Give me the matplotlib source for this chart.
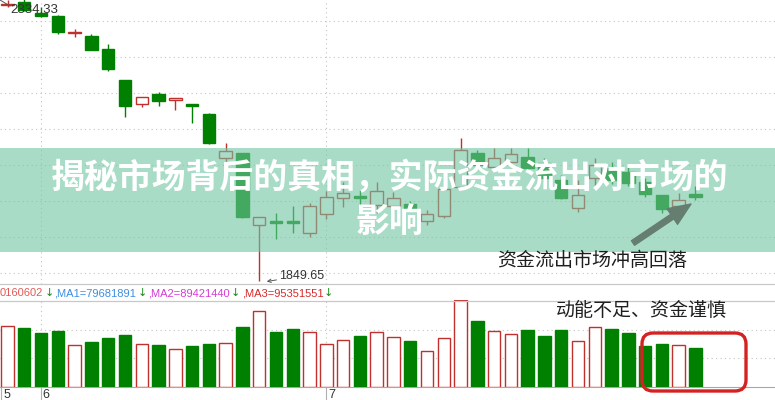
import matplotlib
matplotlib.use("Agg")
import matplotlib.pyplot as plt
import numpy as np
from matplotlib.patches import Rectangle, FancyBboxPatch

plt.rcParams['font.family'] = ['Noto Sans CJK SC', 'DejaVu Sans']

# daily candles (index points)
opens = [2292.8, 2296.8, 2278.7, 2274.9, 2247.7, 2242.9, 2221.6, 2172.0, 2133.1, 2149.6,
         2140.5, 2133.6, 2117.6, 2046.7, 2055.7, 1940.0, 1946.4, 1946.9, 1927.7, 1957.1,
         1982.7, 1986.4, 1972.5, 1970.4, 1973.6, 1946.4, 1954.4, 2000.8, 2054.7, 2033.3,
         2041.3, 2048.3, 2039.2, 2012.0, 1966.7, 2015.2, 2031.2, 2025.3, 2008.8, 1988.0,
         1970.9, 1989.6]
closes = [2293.6, 2284.0, 2274.9, 2249.3, 2248.8, 2220.0, 2189.6, 2130.9, 2144.3, 2138.9,
          2142.7, 2130.4, 2070.7, 2058.9, 1953.3, 1952.3, 1943.7, 1943.7, 1970.4, 1985.6,
          1990.7, 1983.2, 1994.9, 1983.2, 1966.1, 1957.1, 1997.1, 2060.0, 2036.0, 2046.7,
          2053.1, 2030.7, 2015.2, 1982.7, 1988.0, 2036.0, 2012.0, 2007.7, 1989.6, 1965.1,
          1980.0, 1985.3]
highs = [2300.0, 2301.6, 2288.8, 2276.0, 2253.6, 2245.1, 2229.1, 2172.0, 2144.8, 2152.3,
         2142.7, 2133.6, 2119.2, 2071.7, 2056.0, 1953.3, 1959.2, 1970.4, 1975.7, 1995.2,
         2009.3, 1996.0, 2009.3, 1992.8, 1978.4, 1964.0, 2004.0, 2078.7, 2060.0, 2063.2,
         2063.2, 2062.7, 2047.2, 2020.0, 2012.0, 2047.2, 2040.8, 2034.4, 2015.2, 1988.0,
         1990.7, 2002.4]
lows = [2288.8, 2283.2, 2272.8, 2245.6, 2240.8, 2220.0, 2186.9, 2112.8, 2128.3, 2130.9,
        2124.0, 2102.7, 2070.4, 2037.6, 1952.0, 1849.65, 1917.1, 1927.7, 1920.3, 1949.1,
        1969.3, 1969.3, 1958.7, 1964.0, 1962.4, 1940.0, 1951.2, 1996.0, 2034.4, 2025.3,
        2039.2, 2028.0, 2008.8, 1981.6, 1960.8, 2004.0, 2005.6, 2002.4, 1984.8, 1959.7,
        1967.2, 1980.0]
# volume, millions of shares
volumes = [115.9, 112.7, 102.6, 107.0, 79.8, 86.1, 93.7, 99.4, 81.7, 79.8,
           72.2, 77.9, 82.3, 83.6, 114.6, 144.4, 105.1, 110.8, 104.5, 82.3,
           89.3, 97.5, 104.5, 94.4, 87.4, 68.4, 92.5, 165.3, 126.0, 106.4,
           100.7, 108.3, 97.5, 108.3, 87.4, 114.0, 110.2, 103.2, 78.5, 82.3,
           79.8, 74.1]

ma_labels = ["0160602", ",MA1=79681891", ",MA2=89421440", ",MA3=95351551"]
month_ticks = [-0.36, 1.97, 19.0]
month_labels = ["5", "6", "7"]
high_label = "2334.33"
low_label = "1849.65"
title_lines = ["揭秘市场背后的真相，实际资金流出对市场的", "影响"]
note_top = "资金流出市场冲高回落"
note_bottom = "动能不足、资金谨慎"

W, H = 775, 400
RED = '#c0302c'
GREEN = '#008000'
GRID = '#c4c4c4'

fig = plt.figure(figsize=(W / 100, H / 100), dpi=100)

x = np.arange(len(opens))
o, c = np.array(opens), np.array(closes)
up = c >= o
edge = np.where(up, RED, GREEN)
face = np.where(up, 'white', GREEN)
xlim = (-7.5 / 16.78, (W - 7.5) / 16.78)


def px_axes(top, bottom):
    a = fig.add_axes([0, (H - bottom) / H, 1, (bottom - top) / H])
    a.set_xlim(*xlim)
    for s in a.spines.values():
        s.set_visible(False)
    a.tick_params(length=0, labelleft=False, labelbottom=False)
    return a


# price panel
ax = px_axes(0, 284)
ax.set_ylim(1845.6, 2300)
ax.set_yticks(np.arange(1863.2, 2300, 57.6))
ax.set_xticks([])
ax.grid(axis='y', ls=(0, (1, 3)), color=GRID, lw=0.8)
for t in month_ticks[1:]:
    ax.axvline(t, ls=(0, (1, 3)), color=GRID, lw=0.8)
ax.vlines(x, lows, highs, colors=edge, lw=1, zorder=2)
ax.bar(x, np.where(np.abs(c - o) < 0.6, 0.6, c - o), bottom=o, width=0.74,
       color=face, edgecolor=edge, lw=1, zorder=3)
ax.annotate(low_label, xy=(15.45, lows[15]), xytext=(9, 4), textcoords='offset points',
            fontsize=9, family='Liberation Sans', color='#333333', va='center',
            arrowprops=dict(arrowstyle='->', color='#555555', lw=0.7,
                            mutation_scale=6, shrinkA=0, shrinkB=0))

# volume panel
axv = px_axes(300, 387)
axv.set_ylim(0, 165.3)
axv.set_yticks([55, 108])
axv.grid(axis='y', ls=(0, (1, 3)), color=GRID, lw=0.8)
for t in month_ticks[1:]:
    axv.axvline(t, ls=(0, (1, 3)), color=GRID, lw=0.8)
axv.bar(x, volumes, width=0.74, color=face, edgecolor=edge, lw=1, zorder=3)
axv.spines['bottom'].set_visible(True)
axv.spines['bottom'].set_color('#a8a8a8')
axv.set_xticks(month_ticks)
axv.tick_params(axis='x', length=10, color='#b0b0b0', direction='out')
for t, lab in zip(month_ticks, month_labels):
    axv.annotate(lab, xy=(t, 0), xycoords=('data', 'axes fraction'), xytext=(1.5, -6),
                 textcoords='offset points', fontsize=9, family='Liberation Sans',
                 color='#333333', ha='left', va='center')

# overlay in pixel coordinates
ov = fig.add_axes([0, 0, 1, 1], zorder=5)
ov.set_xlim(0, W)
ov.set_ylim(H, 0)
ov.axis('off')
ov.patch.set_alpha(0)

ov.plot([0, W], [284, 284], color='#c8c8c8', lw=0.9)
ov.plot([0, W], [300.5, 300.5], color='#c8c8c8', lw=0.9)

ov.plot([0, 10], [0, 6], color='#555555', lw=0.7)
ov.text(10, 10, high_label, fontsize=9.5, family='Liberation Sans', color='#333333',
        ha='left', va='center')

ma_x = [0, 54, 148, 242]
ma_colors = ['#e25a55', '#3c8fe0', '#d43cd4', '#d42a2a']
arrow_x = [45, 138, 231, 324]
for xs, lab, col, ax_ in zip(ma_x, ma_labels, ma_colors, arrow_x):
    ov.text(xs, 293, lab, fontsize=8, family='Liberation Sans', color=col,
            ha='left', va='center')
    ov.text(ax_, 293, '↓', fontsize=8, family='DejaVu Sans', color='#1a8a1a',
            ha='left', va='center')

ov.add_patch(Rectangle((0, 148), W, 104, facecolor=(113 / 255, 197 / 255, 163 / 255),
                       alpha=0.6, lw=0))
ov.text(389, 178, title_lines[0], fontsize=24.4, weight='bold', color='white',
        ha='center', va='center')
ov.text(389, 221, title_lines[1], fontsize=24.4, weight='bold', color='white',
        ha='center', va='center')

ov.annotate('', xy=(691, 204), xytext=(633, 243),
            arrowprops=dict(arrowstyle='simple,head_length=0.9,head_width=0.75,tail_width=0.22',
                            color='#667e70', mutation_scale=18, shrinkA=0, shrinkB=0))
ov.text(592, 261, note_top, fontsize=13.7, color='#1e1e1e', ha='center', va='center')
ov.text(641.5, 311, note_bottom, fontsize=13.7, color='#1e1e1e', ha='center', va='center')

ov.add_patch(FancyBboxPatch((642, 333), 104, 58, boxstyle='round,pad=0,rounding_size=11',
                            facecolor='none', edgecolor='#d42222', lw=2.4))

fig.savefig('out.png', dpi=100)
